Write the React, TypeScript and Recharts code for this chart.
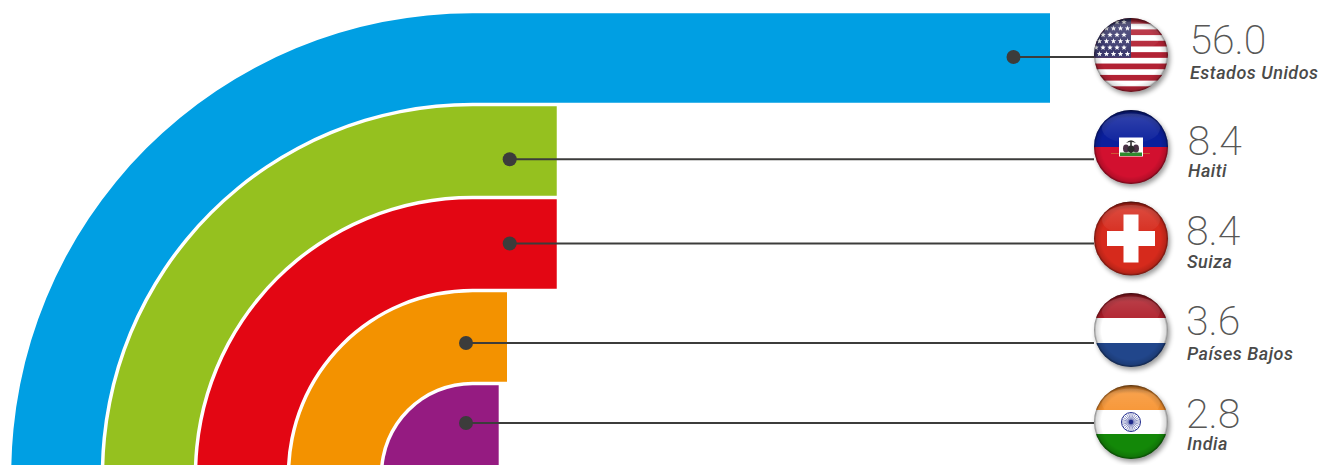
import React from "react";
import { BarChart, Bar, XAxis, YAxis } from "recharts";

const countries = ["Estados Unidos", "Haiti", "Suiza", "Países Bajos", "India"];
const values = [56.0, 8.4, 8.4, 3.6, 2.8];

const rows = countries.map((country, i) => ({ country, value: values[i] }));

const BAR_COLORS = ["#009fe3", "#95c11f", "#e30613", "#f39200", "#951b81"];

// where the arcs turn, in chart pixels
const ARC_CX = 472.5;
const ARC_CY = 474.5;

// leader dots, flags and labels do not follow the bands exactly in the original
const DOT_X = [1013.5, 509.7, 509.7, 466, 466];
const DOT_Y = [57, 159.3, 243.5, 343, 423];
const FLAG_X = 1131;
const FLAG_Y = [55, 147, 238.5, 330, 422];
const FLAG_R = 37;
const VALUE_X = [1189.5, 1187.5, 1186, 1186, 1186];
const VALUE_Y = [54, 155, 245, 335, 428];
const NAME_X = [1190, 1188, 1187, 1187, 1187];
const NAME_Y = [79, 177, 268, 360, 450];

const INK = "#3c3c3b";

function ArcBar(props: any) {
  const { y, width, x, height, index } = props;
  const end = x + width;
  const R = ARC_CY - y;
  const r = Math.max(ARC_CY - (y + height), 0);
  const d = [
    `M ${end} ${y}`,
    `H ${ARC_CX}`,
    `A ${R} ${R} 0 0 0 ${ARC_CX - R} ${ARC_CY}`,
    `H ${ARC_CX - r}`,
    r > 0 ? `A ${r} ${r} 0 0 1 ${ARC_CX} ${ARC_CY - r}` : `L ${ARC_CX} ${ARC_CY}`,
    `H ${end}`,
    "Z",
  ].join(" ");
  return (
    <g>
      <path d={d} fill={BAR_COLORS[index]} />
      <line x1={DOT_X[index]} y1={DOT_Y[index]} x2={FLAG_X - FLAG_R} y2={DOT_Y[index]} stroke={INK} strokeWidth={2} />
      <circle cx={DOT_X[index]} cy={DOT_Y[index]} r={7} fill={INK} />
    </g>
  );
}

function starPath(cx: number, cy: number, r: number) {
  let d = "";
  for (let k = 0; k < 10; k++) {
    const a = -Math.PI / 2 + (k * Math.PI) / 5;
    const rr = k % 2 === 0 ? r : r * 0.42;
    d += `${k === 0 ? "M" : "L"} ${cx + rr * Math.cos(a)} ${cy + rr * Math.sin(a)} `;
  }
  return d + "Z";
}

function UsaFlag({ cy }: { cy: number }) {
  const top = cy - 37;
  const h = 74 / 13;
  const stripes = [];
  for (let i = 0; i < 13; i += 2) {
    stripes.push(<rect key={i} x={FLAG_X - 37} y={top + i * h} width={74} height={h} fill="#b22234" />);
  }
  const stars = [];
  for (let row = 0; row < 6; row++) {
    for (let col = 0; col < 6; col++) {
      const sx = FLAG_X - 35 + col * 7 + (row % 2 ? 3.5 : 0);
      const sy = top + 4 + row * 6.4;
      if (sx < FLAG_X - 1) stars.push(<path key={`${row}-${col}`} d={starPath(sx, sy, 2.9)} fill="#fff" />);
    }
  }
  return (
    <g>
      <rect x={FLAG_X - 37} y={top} width={74} height={74} fill="#fff" />
      {stripes}
      <rect x={FLAG_X - 37} y={top} width={37} height={h * 7} fill="#3c3b6e" />
      {stars}
    </g>
  );
}

function HaitiFlag({ cy }: { cy: number }) {
  return (
    <g>
      <rect x={FLAG_X - 37} y={cy - 37} width={74} height={37} fill="#0a1f9c" />
      <rect x={FLAG_X - 37} y={cy} width={74} height={37} fill="#d2102f" />
      <line x1={FLAG_X - 20} y1={cy + 6.5} x2={FLAG_X + 19} y2={cy + 6.5} stroke="#c98a3a" strokeWidth={0.6} />
      <rect x={FLAG_X - 12} y={cy - 9.5} width={24} height={19} fill="#fff" />
      <rect x={FLAG_X - 11} y={cy + 5.5} width={22} height={3.5} fill="#2e8b2e" />
      <rect x={FLAG_X - 0.8} y={cy - 6} width={1.6} height={12} fill="#2b2b2b" />
      <path
        d={`M ${FLAG_X - 5} ${cy - 4} Q ${FLAG_X} ${cy - 9.5} ${FLAG_X + 5} ${cy - 4} Q ${FLAG_X} ${cy - 6} ${FLAG_X - 5} ${cy - 4} Z`}
        fill="#2b2b2b"
      />
      <ellipse cx={FLAG_X - 5} cy={cy + 1.5} rx={3} ry={4} fill="#4a3145" />
      <ellipse cx={FLAG_X + 5} cy={cy + 1.5} rx={3} ry={4} fill="#4a3145" />
      <ellipse cx={FLAG_X} cy={cy + 2} rx={3.5} ry={3.5} fill="#2b2b2b" />
    </g>
  );
}

function SwissFlag({ cy }: { cy: number }) {
  return (
    <g>
      <rect x={FLAG_X - 37} y={cy - 37} width={74} height={74} fill="#d62a1c" />
      <rect x={FLAG_X - 24} y={cy - 7.5} width={48} height={15} fill="#fff" />
      <rect x={FLAG_X - 7.5} y={cy - 24} width={15} height={48} fill="#fff" />
    </g>
  );
}

function DutchFlag({ cy }: { cy: number }) {
  return (
    <g>
      <rect x={FLAG_X - 37} y={cy - 37} width={74} height={25} fill="#ae1c28" />
      <rect x={FLAG_X - 37} y={cy - 12} width={74} height={25} fill="#fff" />
      <rect x={FLAG_X - 37} y={cy + 13} width={74} height={24} fill="#21468b" />
    </g>
  );
}

function IndiaFlag({ cy }: { cy: number }) {
  const spokes = [];
  for (let k = 0; k < 24; k++) {
    const a = (k * Math.PI) / 12;
    spokes.push(
      <line
        key={k}
        x1={FLAG_X}
        y1={cy}
        x2={FLAG_X + 9 * Math.cos(a)}
        y2={cy + 9 * Math.sin(a)}
        stroke="#1f2a8c"
        strokeWidth={0.5}
      />
    );
  }
  return (
    <g>
      <rect x={FLAG_X - 37} y={cy - 37} width={74} height={25} fill="#f7922e" />
      <rect x={FLAG_X - 37} y={cy - 12} width={74} height={24} fill="#fff" />
      <rect x={FLAG_X - 37} y={cy + 12} width={74} height={25} fill="#138808" />
      <circle cx={FLAG_X} cy={cy} r={9.5} fill="#fff" stroke="#1f2a8c" strokeWidth={1} />
      {spokes}
      <circle cx={FLAG_X} cy={cy} r={2.2} fill="#1f2a8c" />
    </g>
  );
}

const FLAGS = [UsaFlag, HaitiFlag, SwissFlag, DutchFlag, IndiaFlag];

function CountryTick(props: any) {
  const { index, payload } = props;
  const cy = FLAG_Y[index];
  const Flag = FLAGS[index];
  return (
    <g>
      <defs>
        <clipPath id={`flag-clip-${index}`}>
          <circle cx={FLAG_X} cy={cy} r={FLAG_R} />
        </clipPath>
      </defs>
      <circle cx={FLAG_X + 2} cy={cy + 3} r={FLAG_R} fill="#000" opacity={0.4} filter="url(#flag-shadow)" />
      <g clipPath={`url(#flag-clip-${index})`}>
        <Flag cy={cy} />
      </g>
      <circle cx={FLAG_X} cy={cy} r={FLAG_R} fill="url(#flag-rim)" />
      <circle cx={FLAG_X} cy={cy} r={FLAG_R} fill="url(#flag-top)" />
      <ellipse cx={FLAG_X} cy={cy - 18.5} rx={29} ry={15} fill="url(#flag-gloss)" />
      <text
        x={VALUE_X[index]}
        y={VALUE_Y[index]}
        fontFamily="Roboto"
        fontWeight={200}
        fontSize={41}
        fill="#575756"
      >
        {values[index].toFixed(1)}
      </text>
      <text
        x={NAME_X[index]}
        y={NAME_Y[index]}
        fontFamily="Roboto"
        fontWeight={500}
        fontStyle="italic"
        fontSize={18}
        letterSpacing={0.5}
        fill="#4a4a49"
      >
        {payload.value}
      </text>
    </g>
  );
}

export default function App() {
  return (
    <div style={{ position: "fixed", left: 0, top: 0, width: 1320, height: 465, overflow: "hidden", background: "#fff" }}>
      <BarChart
        width={1320}
        height={480}
        data={rows}
        layout="vertical"
        margin={{ top: 11.25, right: 0, bottom: 3.75, left: 469.7 }}
      >
        <defs>
          <filter id="flag-shadow" x="-20%" y="-20%" width="140%" height="140%">
            <feGaussianBlur stdDeviation="2.5" />
          </filter>
          <radialGradient id="flag-rim">
            <stop offset="0.8" stopColor="#000" stopOpacity={0} />
            <stop offset="0.94" stopColor="#000" stopOpacity={0.14} />
            <stop offset="1" stopColor="#000" stopOpacity={0.5} />
          </radialGradient>
          <linearGradient id="flag-top" x1="0" y1="0" x2="0" y2="1">
            <stop offset="0" stopColor="#000" stopOpacity={0.35} />
            <stop offset="0.12" stopColor="#000" stopOpacity={0} />
          </linearGradient>
          <linearGradient id="flag-gloss" x1="0" y1="0" x2="0" y2="1">
            <stop offset="0" stopColor="#fff" stopOpacity={0.16} />
            <stop offset="1" stopColor="#fff" stopOpacity={0.02} />
          </linearGradient>
        </defs>
        <XAxis type="number" domain={[0, 56]} hide />
        <YAxis
          type="category"
          dataKey="country"
          orientation="right"
          width={270}
          interval={0}
          axisLine={false}
          tickLine={false}
          tick={CountryTick}
        />
        <Bar dataKey="value" barSize={89.5} shape={ArcBar} isAnimationActive={false} />
      </BarChart>
    </div>
  );
}
